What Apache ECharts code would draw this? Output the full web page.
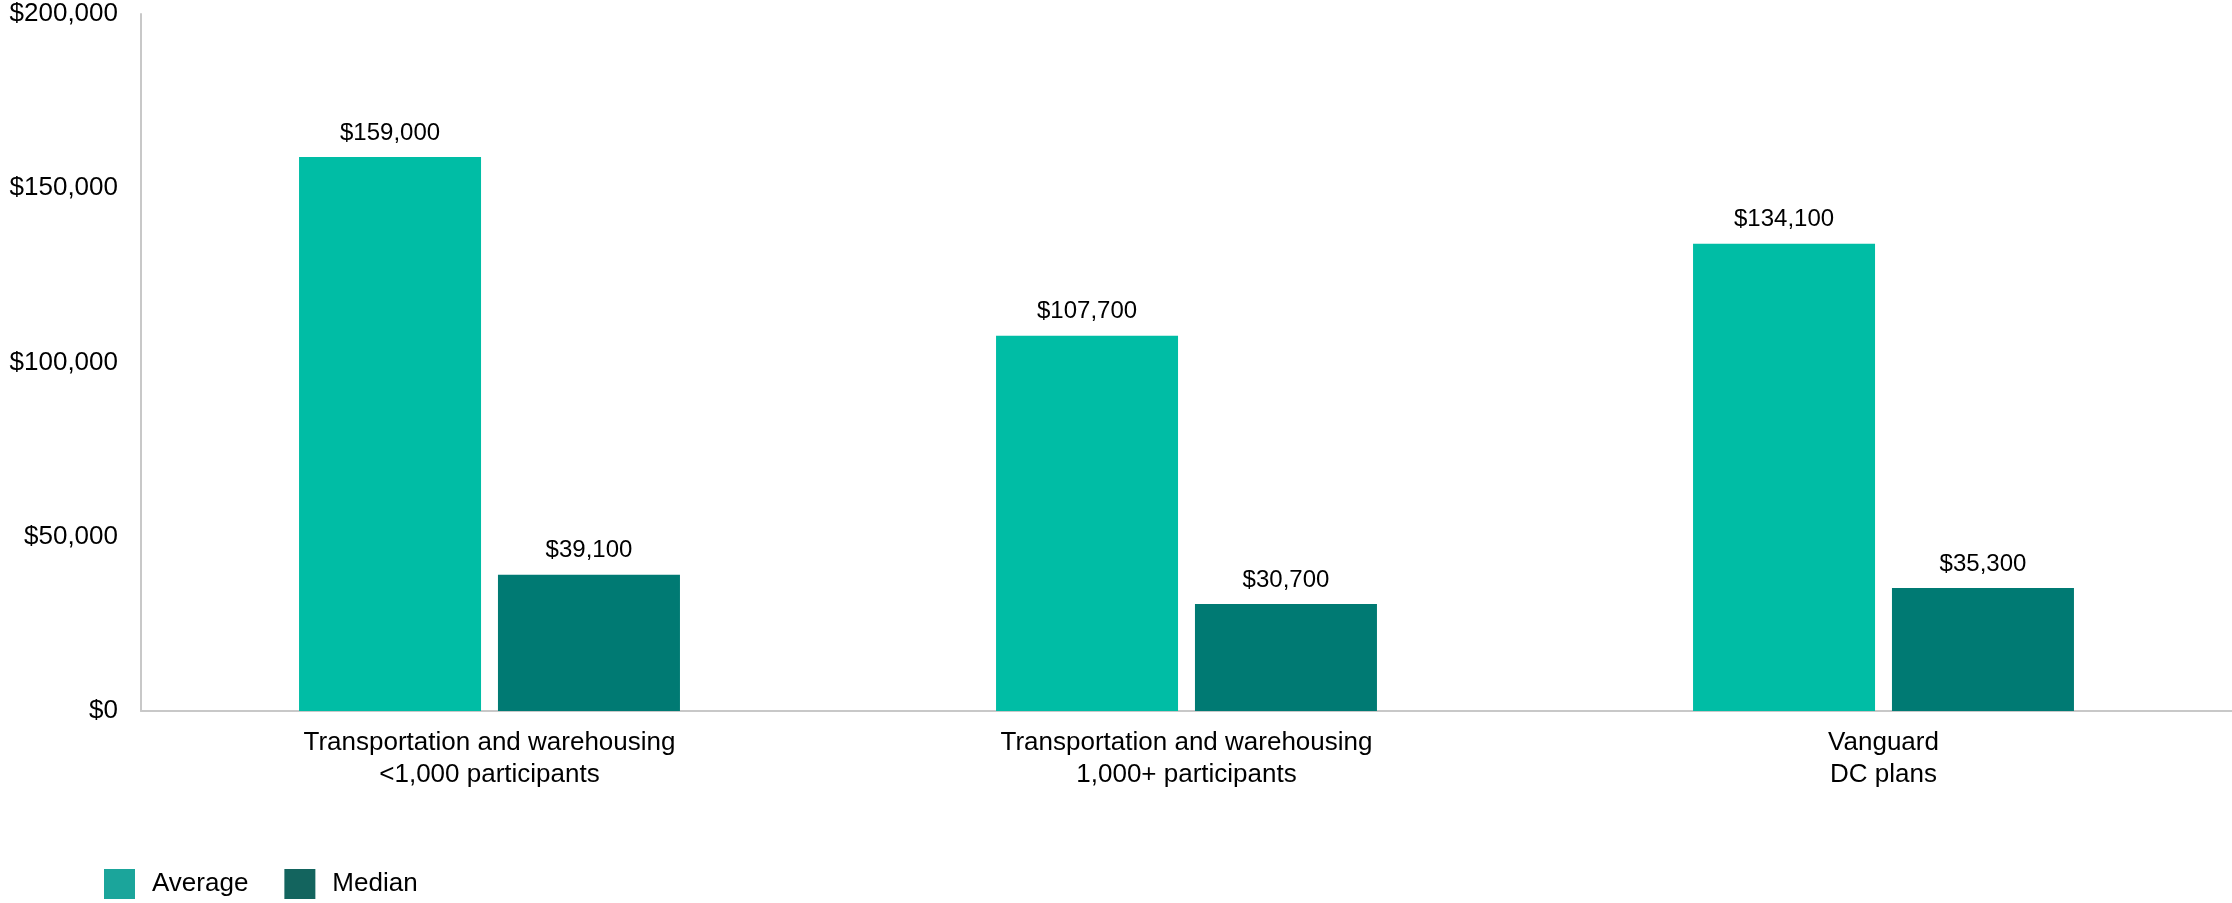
<!DOCTYPE html>
<html>
<head>
<meta charset="utf-8">
<script src="https://cdn.jsdelivr.net/npm/echarts@6/dist/echarts.min.js"></script>
<style>html,body{margin:0;padding:0;background:#fff;}#c{width:2232px;height:903px;}</style>
</head>
<body>
<div id="c"></div>
<script>
const categories = ['Transportation and warehousing\n<1,000 participants', 'Transportation and warehousing\n1,000+ participants', 'Vanguard\nDC plans'];
const averageValues = [159000, 107700, 134100];
const medianValues = [39100, 30700, 35300];
const yTicks = [0, 50000, 100000, 150000, 200000];

const FONT = '"Liberation Sans", Arial, sans-serif';
const fmt = v => '$' + Number(v).toLocaleString('en-US');

const chart = echarts.init(document.getElementById('c'));
chart.setOption({
  animation: false,
  backgroundColor: '#ffffff',
  legend: {
    left: 104, bottom: 4, padding: 0,
    itemWidth: 31, itemHeight: 30, itemGap: 36,
    icon: 'rect',
    textStyle: { fontFamily: FONT, fontSize: 26, color: '#000', padding: [0, 0, 0, 12] },
    data: [
      { name: 'Average', itemStyle: { color: '#1ba59b' } },
      { name: 'Median', itemStyle: { color: '#13645e' } }
    ]
  },
  grid: { left: 141, right: 0, top: 14, bottom: 192 },
  xAxis: {
    type: 'category',
    data: categories,
    axisLine: { show: true, lineStyle: { color: '#c8c8c8', width: 2 } },
    axisTick: { show: false },
    axisLabel: { fontFamily: FONT, fontSize: 26, color: '#000', lineHeight: 32, margin: 16, interval: 0 }
  },
  yAxis: {
    type: 'value',
    min: yTicks[0], max: yTicks[yTicks.length - 1], interval: 50000,
    axisLine: { show: true, lineStyle: { color: '#c8c8c8', width: 2 } },
    axisTick: { show: false },
    splitLine: { show: false },
    axisLabel: { fontFamily: FONT, fontSize: 26, color: '#000', margin: 23, formatter: fmt }
  },
  series: [
    {
      name: 'Average', type: 'bar', data: averageValues,
      barWidth: 182, barGap: '9.3%',
      itemStyle: { color: '#00bda5' },
      label: { show: true, position: 'top', distance: 12, fontFamily: FONT, fontSize: 24, color: '#000', formatter: p => fmt(p.value) }
    },
    {
      name: 'Median', type: 'bar', data: medianValues,
      barWidth: 182,
      itemStyle: { color: '#007a73' },
      label: { show: true, position: 'top', distance: 12, fontFamily: FONT, fontSize: 24, color: '#000', formatter: p => fmt(p.value) }
    }
  ]
});
</script>
</body>
</html>
